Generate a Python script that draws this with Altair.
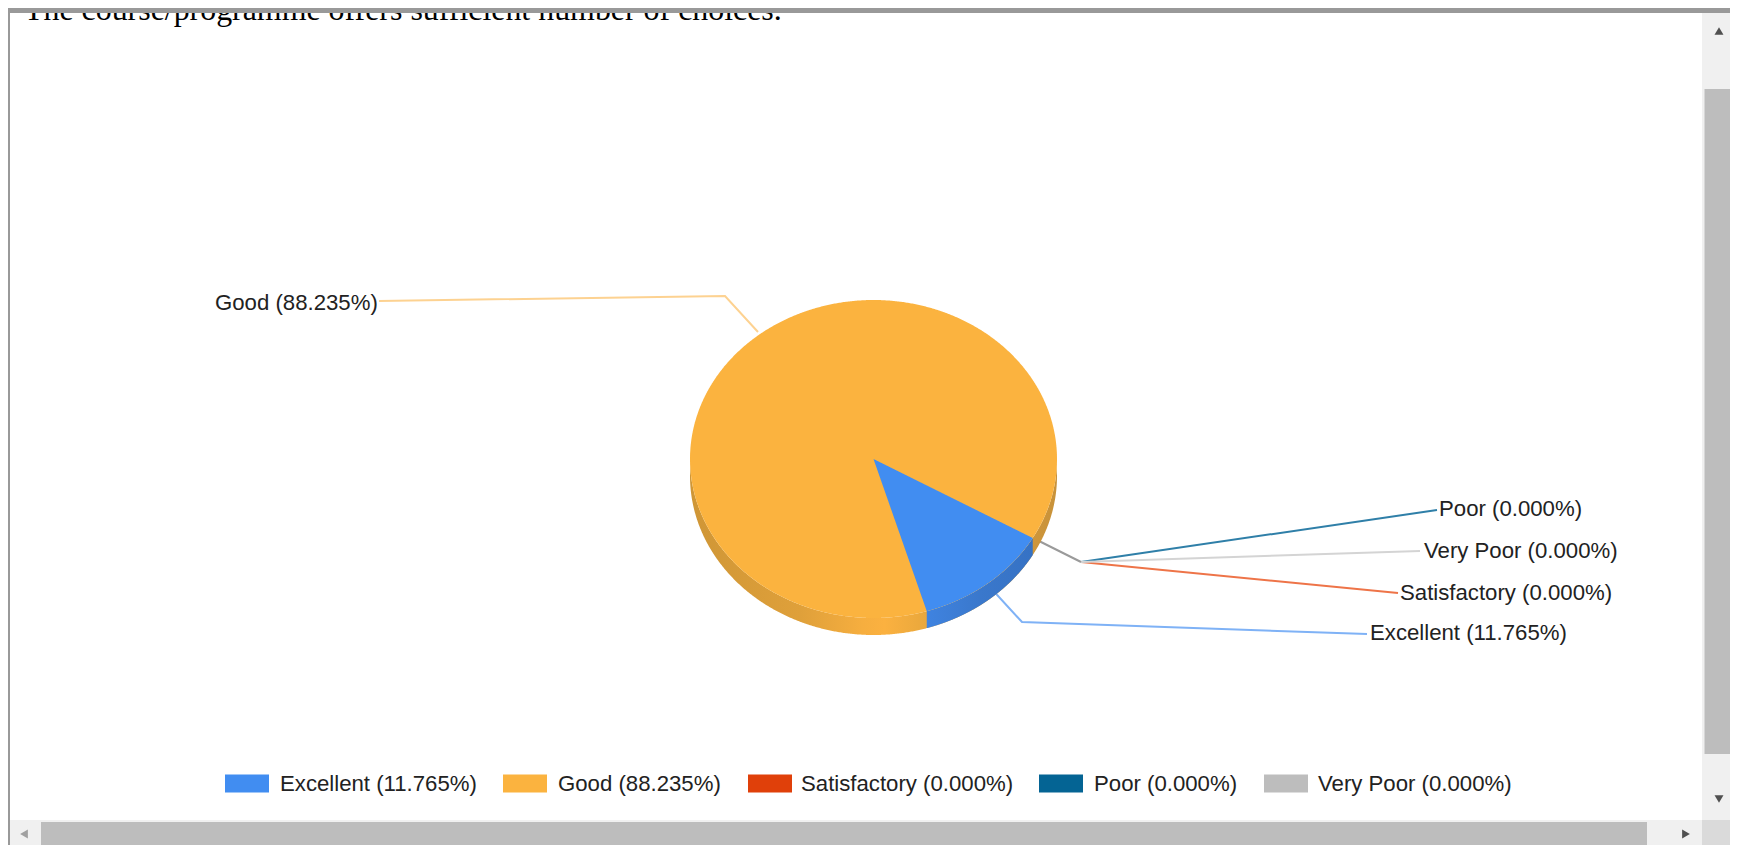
import math
import altair as alt
import pandas as pd

# ---- values
categories = ["Excellent", "Good", "Satisfactory", "Poor", "Very Poor"]
percents = [11.765, 88.235, 0.0, 0.0, 0.0]
colors = ["#418DF1", "#FBB33F", "#E0400A", "#046494", "#BDBDBD"]
title_text = "The course/programme offers sufficient number of choices."
labels = [f"{c} ({v:.3f}%)" for c, v in zip(categories, percents)]

# ---- layout (page pixels)
CX, CY, RX, RY, DEPTH = 873.5, 459, 183.5, 159, 17
START = math.radians(29.8)
PROJECTION = 1.023  # the tilted pie widens the slice's apparent sweep a little
END = START + percents[0] / 100 * 2 * math.pi * PROJECTION
FONT = "Liberation Sans"
FS = 22.2

legend_swatch_x = [225, 503, 748, 1039, 1264]
legend_text_x = [280, 558, 801, 1094, 1318]
callout_text_x = [1370, 215, 1400, 1439, 1424]
callout_text_y = [633, 303, 593, 509, 551]
leader_colors = ["#7FB2F6", "#FDD291", "#EE7448", "#2F7FA8", "#D4D4D4"]
leader_paths = [
    [(1367, 634), (1022, 622), (988, 585)],
    [(379, 301), (725, 296), (758, 332)],
    [(1398, 593), (1081, 562)],
    [(1437, 510), (1081, 562)],
    [(1420, 551), (1081, 562)],
]
shared_leader = [(1033, 538), (1081, 562)]

W, H = 1722, 837
X = alt.X("x:Q", scale=alt.Scale(domain=[8, 8 + W], nice=False, zero=False), axis=None)
Y = alt.Y("y:Q", scale=alt.Scale(domain=[8 + H, 8], nice=False, zero=False), axis=None, stack=None)

seq = alt.sequence(0, 1.0005, 0.002, as_="t")
u = f"((datum.x-{CX})/{RX})"
rim = f"{CY}+{RY}*sqrt(max(0,1-{u}*{u}))"
full_x = f"{CX}-{RX}*cos(PI*datum.t)"


def face_or_wall(expr_x, expr_y, expr_y2, fill):
    return (
        alt.Chart(seq)
        .transform_calculate(x=expr_x)
        .transform_calculate(y=expr_y, y2=expr_y2)
        .mark_area(color=fill, interpolate="linear", strokeWidth=0, orient="vertical")
        .encode(x=X, y=Y, y2=alt.Y2("y2:Q"))
    )


def hgrad(stops):
    return alt.Gradient(
        gradient="linear", x1=0, x2=1, y1=0, y2=0,
        stops=[alt.GradientStop(offset=o, color=c) for o, c in stops],
    )


x0 = CX + RX * math.cos(START)
x1 = CX + RX * math.cos(END)

orange_wall = face_or_wall(
    full_x, rim, f"{rim}+{DEPTH}",
    hgrad([(0, "#CF9636"), (0.3, "#DFA03A"), (0.47, "#F6AE3F"), (0.53, "#FBB140"), (0.65, "#E8A73C"), (1, "#C8923A")]),
)
blue_wall = face_or_wall(
    f"{x1}+datum.t*{x0 - x1}", rim, f"{rim}+{DEPTH}",
    hgrad([(0, "#3F83E0"), (0.5, "#3A78CC"), (1, "#3672C4")]),
)
orange_face = face_or_wall(
    full_x, f"{CY}-{RY}*sin(PI*datum.t)", f"{CY}+{RY}*sin(PI*datum.t)", colors[1]
)
blue_face = face_or_wall(
    f"{CX}+datum.t*{x0 - CX}",
    f"{CY}+{RY}*{u}*{math.tan(START)}",
    f"{CY}+{RY}*min({u}*{math.tan(END)},sqrt(max(0,1-{u}*{u})))",
    colors[0],
)

# leader lines
rows = []
for name, col, path in zip(categories, leader_colors, leader_paths):
    for i, (px, py) in enumerate(path):
        rows.append({"name": name, "c": col, "i": i, "x": px, "y": py})
for i, (px, py) in enumerate(shared_leader):
    rows.append({"name": "shared", "c": "#9A9A9A", "i": i, "x": px, "y": py})
leaders = (
    alt.Chart(pd.DataFrame(rows))
    .mark_line(strokeWidth=2)
    .encode(x=X, y=Y, detail="name:N", order="i:Q", color=alt.Color("c:N", scale=None))
)

# callout labels
callouts = (
    alt.Chart(pd.DataFrame({"x": callout_text_x, "y": callout_text_y, "t": labels}))
    .mark_text(align="left", baseline="middle", font=FONT, fontSize=FS, color="#222222")
    .encode(x=X, y=Y, text="t:N")
)

# legend
swatches = (
    alt.Chart(pd.DataFrame({
        "x": legend_swatch_x,
        "x2": [v + 44 for v in legend_swatch_x],
        "y": [774.5] * 5, "y2": [792.5] * 5, "c": colors,
    }))
    .mark_rect()
    .encode(x=X, x2="x2:Q", y=Y, y2="y2:Q", color=alt.Color("c:N", scale=None))
)
legend_labels = (
    alt.Chart(pd.DataFrame({"x": legend_text_x, "y": [784] * 5, "t": labels}))
    .mark_text(align="left", baseline="middle", font=FONT, fontSize=FS, color="#222222")
    .encode(x=X, y=Y, text="t:N")
)

# title clipped by the window frame
title = (
    alt.Chart(pd.DataFrame({"x": [24], "y": [20], "t": [title_text]}))
    .mark_text(align="left", baseline="alphabetic", font="Liberation Serif", fontSize=31.9, color="#000000")
    .encode(x=X, y=Y, text="t:N")
)

# window chrome: x, x2, y, y2, colour
chrome_rows = [
    (8, 1730, 8, 13, "#999999"),
    (8, 10, 8, 845, "#999999"),
    (1702, 1730, 13, 820, "#F0F0F0"),
    (1704.5, 1730, 89, 754, "#BDBDBD"),
    (10, 1702, 820, 845, "#F0F0F0"),
    (41, 1647, 822, 845, "#BDBDBD"),
    (1702, 1730, 820, 845, "#DADADA"),
]
chrome = (
    alt.Chart(pd.DataFrame(chrome_rows, columns=["x", "x2", "y", "y2", "c"]))
    .mark_rect()
    .encode(x=X, x2="x2:Q", y=Y, y2="y2:Q", color=alt.Color("c:N", scale=None))
)
arrow_rows = [
    (1719, 31, "triangle-up", "#505050"),
    (1719, 799, "triangle-down", "#505050"),
    (24, 834, "triangle-left", "#A0A0A0"),
    (1686, 834, "triangle-right", "#505050"),
]
arrows = alt.layer(*[
    alt.Chart(pd.DataFrame({"x": [a], "y": [b]}))
    .mark_point(shape=s, filled=True, size=80, color=c, opacity=1)
    .encode(x=X, y=Y)
    for a, b, s, c in arrow_rows
])

chart = (
    alt.layer(
        title, chrome, arrows, leaders, orange_wall, blue_wall, orange_face, blue_face,
        callouts, swatches, legend_labels,
    )
    .properties(width=W, height=H, padding=0, background="#FFFFFF", autosize="none")
    .configure_view(stroke=None)
)

chart.save("out.html", embed_options={"renderer": "svg", "actions": False})
